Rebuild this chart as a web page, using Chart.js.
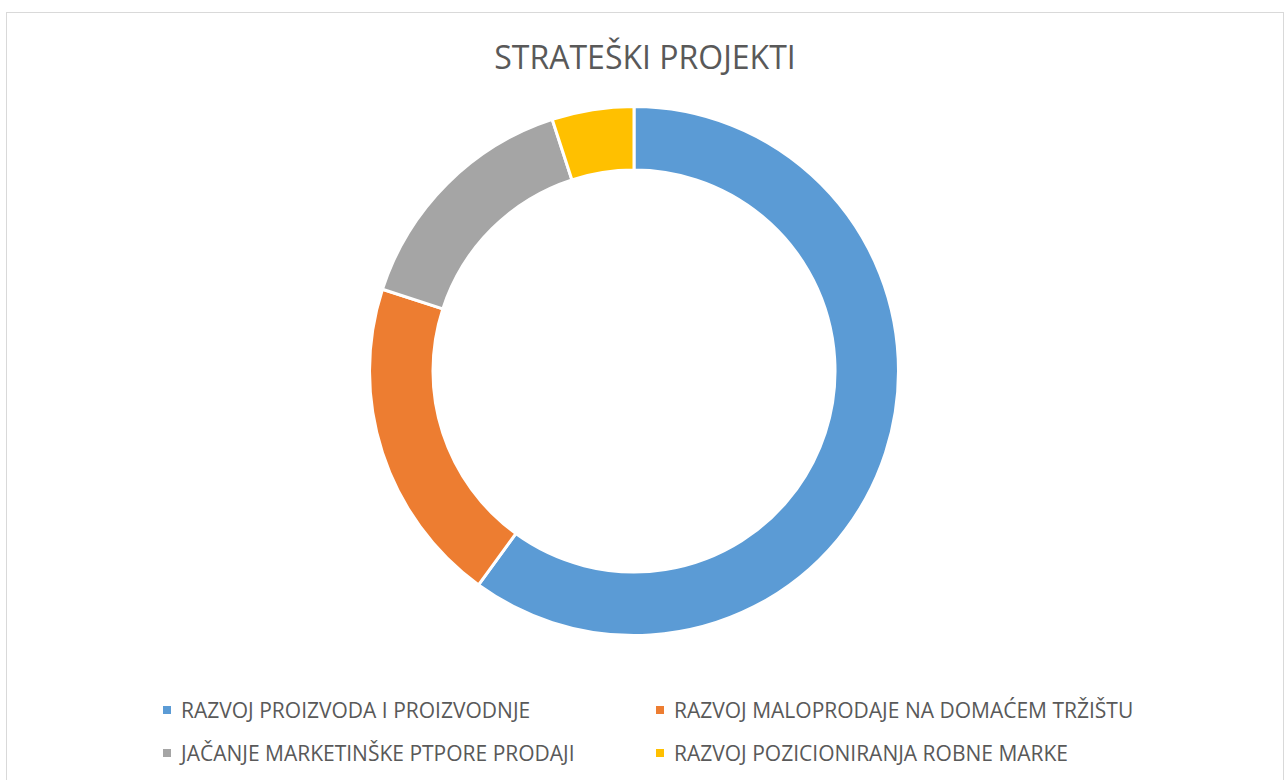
<!DOCTYPE html>
<html>
<head>
<meta charset="utf-8">
<script src="https://cdn.jsdelivr.net/npm/chart.js@4.4.1/dist/chart.umd.min.js"></script>
<style>
  html, body { margin: 0; padding: 0; background: #fff; overflow: hidden; }
  body { width: 1285px; height: 780px; position: relative; font-family: "Open Sans", sans-serif; color: #595959; }
  #frame { position: absolute; left: 6px; top: 12px; width: 1276px; height: 800px; border: 1px solid #d9d9d9; }
  #wrap { position: absolute; left: 0; top: 0; width: 1268px; height: 637px; }
  #title { position: absolute; left: 6px; width: 1278px; top: 36px; text-align: center; font-size: 32px; line-height: 42px; }
  #legend { position: absolute; left: 163px; top: 696px; display: grid; grid-template-columns: 493px 480px; row-gap: 15px; font-size: 21px; line-height: 28px; }
  .item { display: flex; align-items: center; white-space: nowrap; }
  .box { width: 8px; height: 8px; margin-right: 10px; flex: none; }
</style>
</head>
<body>
<div id="frame"></div>
<div id="title"></div>
<div id="wrap"><canvas id="chart-projekti"></canvas></div>
<div id="legend"></div>
<script>
// Podaci
const naslov = 'STRATEŠKI PROJEKTI';
const projekti = ['RAZVOJ PROIZVODA I PROIZVODNJE', 'RAZVOJ MALOPRODAJE NA DOMAĆEM TRŽIŠTU', 'JAČANJE MARKETINŠKE PTPORE PRODAJI', 'RAZVOJ POZICIONIRANJA ROBNE MARKE'];
const udjeli = [60, 20, 15, 5];
const boje = ['#5B9BD5', '#ED7D31', '#A5A5A5', '#FFC000'];

document.getElementById('title').textContent = naslov;

const data = {
  labels: projekti,
  datasets: [{
    data: udjeli,
    backgroundColor: boje,
    borderColor: '#ffffff',
    borderWidth: 3,
    cutout: '76%'
  }]
};

const config = {
  type: 'doughnut',
  data: data,
  options: {
    responsive: true,
    maintainAspectRatio: false,
    animation: false,
    layout: { padding: { top: 105 } },
    plugins: {
      legend: { display: false },
      tooltip: { enabled: false },
      title: { display: false }
    }
  }
};

const myChart = new Chart(document.getElementById('chart-projekti'), config);

// legenda u dva stupca, iz podataka grafikona
const legend = document.getElementById('legend');
myChart.legend.legendItems.forEach(item => {
  const el = document.createElement('div');
  el.className = 'item';
  const box = document.createElement('span');
  box.className = 'box';
  box.style.background = item.fillStyle;
  const txt = document.createElement('span');
  txt.textContent = item.text;
  el.appendChild(box);
  el.appendChild(txt);
  legend.appendChild(el);
});
</script>
</body>
</html>
